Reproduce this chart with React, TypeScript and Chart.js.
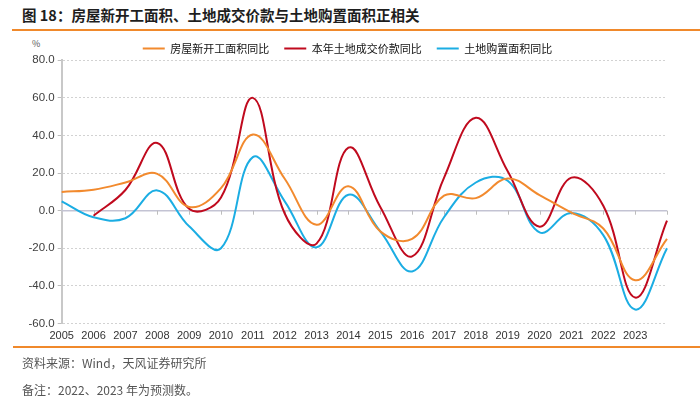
import React, { useEffect, useRef } from 'react';
import { Chart, registerables } from 'chart.js';

Chart.register(...registerables);

const years = ['2005', '2006', '2007', '2008', '2009', '2010', '2011', '2012', '2013', '2014', '2015', '2016', '2017', '2018', '2019', '2020', '2021', '2022', '2023', ''];
const newStartsYoY = [10, 11.2, 15, 19.6, 2, 12, 40.5, 17, -7.5, 13, -11, -15, 8, 6.7, 17.1, 8.3, -1, -9.5, -37, -15];
const landValueYoY = [null, -2.7, 11, 36, 1, 7, 60, -1.5, -17.5, 33.5, 2, -24.3, 17.5, 49.4, 21, -8.5, 17.6, 2.6, -46.2, -5.3];
const landAreaYoY = [5, -3.5, -4, 10.8, -8.3, -20, 28.5, 5, -19.5, 8.5, -11, -32.3, -3.5, 15, 15.9, -11.5, -1.2, -13, -52.6, -20];
const seriesNames = ['房屋新开工面积同比', '本年土地成交价款同比', '土地购置面积同比'];
const seriesColors = ['#F28A2E', '#C00A1E', '#1BADE3'];
const yMin = -60;
const yMax = 80;
const yStep = 20;

const titleText = '图 18：房屋新开工面积、土地成交价款与土地购置面积正相关';
const sourceText = '资料来源：Wind，天风证券研究所';
const noteText = '备注：2022、2023 年为预测数。';

const zeroLinePlugin = {
  id: 'zeroLine',
  beforeDatasetsDraw(chart: any) {
    const { ctx, chartArea, scales } = chart;
    const y0 = scales.y.getPixelForValue(0);
    ctx.save();
    ctx.strokeStyle = '#c3c3d3';
    ctx.lineWidth = 1.5;
    ctx.beginPath();
    ctx.moveTo(chartArea.left, y0);
    ctx.lineTo(chartArea.right, y0);
    ctx.stroke();
    ctx.strokeStyle = '#bdbdbd';
    ctx.lineWidth = 1;
    for (let i = 1; i < years.length; i++) {
      const x = Math.round(scales.x.getPixelForValue(i)) + 0.5;
      ctx.beginPath();
      ctx.moveTo(x, y0);
      ctx.lineTo(x, y0 + 4);
      ctx.stroke();
    }
    ctx.restore();
  },
};

const legendHeightPlugin = {
  id: 'legendHeight',
  beforeInit(chart: any) {
    const legend = chart.legend;
    if (!legend) return;
    const origFit = legend.fit;
    legend.fit = function () {
      origFit.call(this);
      this.height = 32.3;
    };
  },
};

function ChartCanvas() {
  const ref = useRef<HTMLCanvasElement | null>(null);
  useEffect(() => {
    if (!ref.current) return;
    const chart = new Chart(ref.current, {
      type: 'line',
      data: {
        labels: years,
        datasets: [
          { label: seriesNames[0], data: newStartsYoY, borderColor: seriesColors[0], backgroundColor: seriesColors[0] },
          { label: seriesNames[1], data: landValueYoY as any, borderColor: seriesColors[1], backgroundColor: seriesColors[1] },
          { label: seriesNames[2], data: landAreaYoY, borderColor: seriesColors[2], backgroundColor: seriesColors[2] },
        ].map((d) => ({ ...d, borderWidth: 2, pointRadius: 0, tension: 0.4, fill: false, spanGaps: false })),
      },
      options: {
        responsive: false,
        animation: false,
        layout: { padding: { top: 28, left: 28, right: 33, bottom: 59.5 } },
        plugins: {
          legend: {
            display: true,
            position: 'top',
            labels: {
              usePointStyle: true,
              pointStyle: 'line',
              pointStyleWidth: 22,
              padding: 15,
              color: '#111',
              font: { family: '"Noto Sans CJK SC", sans-serif', size: 11 },
            },
          },
          tooltip: { enabled: false },
        },
        scales: {
          x: {
            type: 'category',
            offset: false,
            grid: { display: false, drawTicks: false },
            border: { display: false },
            ticks: {
              padding: 6,
              maxRotation: 0,
              autoSkip: false,
              color: '#333',
              font: { family: '"Liberation Sans", Arial, sans-serif', size: 11 },
            },
            afterFit(scale: any) {
              scale.height = 20;
            },
          },
          y: {
            min: yMin,
            max: yMax,
            ticks: {
              stepSize: yStep,
              padding: 3,
              color: '#404040',
              font: { family: '"Liberation Sans", Arial, sans-serif', size: 11.5 },
              callback: (v: any) => Number(v).toFixed(1),
            },
            grid: {
              color: '#d2d2d2',
              lineWidth: 1,
              drawTicks: true,
              tickLength: 4,
              tickColor: '#bdbdbd',
              tickBorderDash: [],
            },
            border: { display: true, color: '#c8c8c8', width: 2, dash: [2, 2] },
            afterFit(scale: any) {
              scale.width = 33.7;
            },
          },
        },
      },
      plugins: [zeroLinePlugin, legendHeightPlugin],
    });
    return () => chart.destroy();
  }, []);
  return <canvas ref={ref} width={700} height={403} style={{ position: 'absolute', left: 0, top: 0, width: 700, height: 403 }} />;
}

export default function App() {
  const cjk = '"Noto Sans CJK SC", "Liberation Sans", sans-serif';
  return (
    <div style={{ position: 'fixed', left: 0, top: 0, width: 700, height: 403, background: '#fff', overflow: 'hidden', fontFamily: cjk }}>
      <div style={{ position: 'absolute', left: 22, top: 4, fontSize: 14.5, fontWeight: 700, color: '#1e1e1e', lineHeight: '22px', whiteSpace: 'nowrap' }}>{titleText}</div>
      <div style={{ position: 'absolute', left: 12, top: 29, width: 688, height: 2, background: '#F0892B' }} />
      <div style={{ position: 'absolute', left: 32, top: 38, fontSize: 9, color: '#555', lineHeight: '12px' }}>%</div>
      <ChartCanvas />
      <div style={{ position: 'absolute', left: 13, top: 346, width: 687, height: 2, background: '#F0892B' }} />
      <div style={{ position: 'absolute', left: 22, top: 354, fontSize: 12, color: '#555', lineHeight: '17px', whiteSpace: 'nowrap' }}>{sourceText}</div>
      <div style={{ position: 'absolute', left: 22, top: 381, fontSize: 12, color: '#555', lineHeight: '17px', whiteSpace: 'nowrap' }}>{noteText}</div>
    </div>
  );
}
